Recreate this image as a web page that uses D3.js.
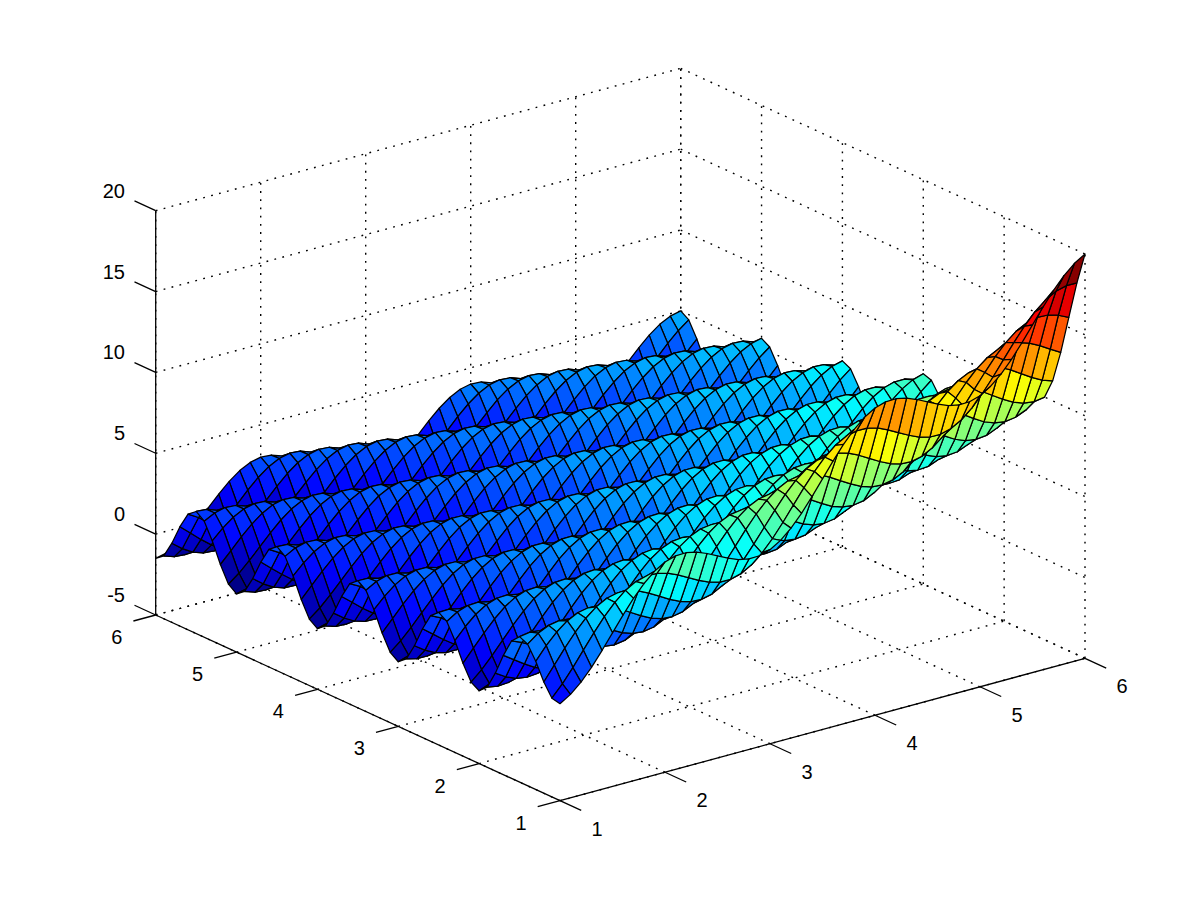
<!DOCTYPE html>
<html>
<head>
<meta charset="utf-8">
<script src="https://cdn.jsdelivr.net/npm/d3@7"></script>
<style>
  html, body { margin: 0; padding: 0; background: #fff; }
  text { font-family: "Liberation Sans", Arial, sans-serif; font-size: 20px; fill: #000; }
</style>
</head>
<body>
<div id="container"></div>
<script>
const xTicks = [1, 2, 3, 4, 5, 6];
const yTicks = [1, 2, 3, 4, 5, 6];
const zTicks = [-5, 0, 5, 10, 15, 20];

const xValues = [1,1.1,1.2,1.3,1.4,1.5,1.6,1.7,1.8,1.9,2,2.1,2.2,2.3,2.4,2.5,2.6,2.7,2.8,2.9,3,3.1,3.2,3.3,3.4,3.5,3.6,3.7,3.8,3.9,4,4.1,4.2,4.3,4.4,4.5,4.6,4.7,4.8,4.9,5,5.1,5.2,5.3,5.4,5.5,5.6,5.7,5.8,5.9,6];
const yValues = [1,1.1,1.2,1.3,1.4,1.5,1.6,1.7,1.8,1.9,2,2.1,2.2,2.3,2.4,2.5,2.6,2.7,2.8,2.9,3,3.1,3.2,3.3,3.4,3.5,3.6,3.7,3.8,3.9,4,4.1,4.2,4.3,4.4,4.5,4.6,4.7,4.8,4.9,5,5.1,5.2,5.3,5.4,5.5,5.6,5.7,5.8,5.9,6];

// heights, one row per y value, one column per x value.
// worked out by hand from a curve fitted to the edges, 3x/y + 2cos(pi(x+2y)), so not direct pixel reads
const zRows = [
[1,1.4,1.98,2.72,3.58,4.5,5.42,6.28,7.02,7.6,8,8.2,8.22,8.08,7.82,7.5,7.18,6.92,6.78,6.8,7,7.4,7.98,8.72,9.58,10.5,11.42,12.28,13.02,13.6,14,14.2,14.22,14.08,13.82,13.5,13.18,12.92,12.78,12.8,13,13.4,13.98,14.72,15.58,16.5,17.42,18.28,19.02,19.6,20],
[1.11,1.82,2.65,3.55,4.44,5.27,5.98,6.54,6.91,7.08,7.07,6.91,6.62,6.27,5.93,5.64,5.47,5.46,5.64,6.01,6.56,7.27,8.1,9,9.89,10.72,11.43,11.99,12.36,12.53,12.52,12.36,12.07,11.72,11.38,11.09,10.92,10.91,11.09,11.46,12.02,12.73,13.56,14.46,15.35,16.18,16.89,17.45,17.82,17.99,17.98],
[1.88,2.75,3.62,4.43,5.12,5.65,6,6.15,6.12,5.93,5.62,5.25,4.88,4.57,4.38,4.35,4.5,4.85,5.38,6.07,6.88,7.75,8.62,9.43,10.12,10.65,11,11.15,11.12,10.93,10.62,10.25,9.88,9.57,9.38,9.35,9.5,9.85,10.38,11.07,11.88,12.75,13.62,14.43,15.12,15.65,16,16.15,16.12,15.93,15.62],
[2.93,3.72,4.39,4.9,5.23,5.36,5.31,5.1,4.77,4.38,4,3.67,3.46,3.41,3.54,3.87,4.38,5.05,5.84,6.69,7.55,8.34,9.01,9.52,9.85,9.98,9.93,9.72,9.39,9,8.62,8.29,8.08,8.03,8.16,8.49,9,9.67,10.46,11.31,12.16,12.95,13.62,14.13,14.46,14.59,14.54,14.33,14,13.61,13.23],
[3.76,4.26,4.57,4.69,4.62,4.39,4.05,3.64,3.24,2.89,2.67,2.6,2.71,3.03,3.52,4.18,4.95,5.79,6.62,7.39,8.05,8.55,8.86,8.98,8.91,8.68,8.34,7.93,7.53,7.18,6.96,6.89,7,7.32,7.81,8.47,9.24,10.08,10.91,11.68,12.33,12.83,13.14,13.26,13.19,12.96,12.62,12.21,11.81,11.46,11.24],
[4,4.1,4.02,3.78,3.42,3,2.58,2.22,1.98,1.9,2,2.3,2.78,3.42,4.18,5,5.82,6.58,7.22,7.7,8,8.1,8.02,7.78,7.42,7,6.58,6.22,5.98,5.9,6,6.3,6.78,7.42,8.18,9,9.82,10.58,11.22,11.7,12,12.1,12.02,11.78,11.42,11,10.58,10.22,9.98,9.9,10],
[3.5,3.24,2.87,2.44,2.01,1.63,1.38,1.29,1.38,1.66,2.13,2.76,3.51,4.31,5.12,5.87,6.5,6.96,7.25,7.34,7.25,6.99,6.62,6.19,5.76,5.38,5.13,5.04,5.13,5.41,5.88,6.51,7.26,8.06,8.87,9.62,10.25,10.71,11,11.09,11,10.74,10.37,9.94,9.51,9.13,8.88,8.79,8.88,9.16,9.63],
[2.38,1.94,1.5,1.11,.85,.75,.82,1.1,1.56,2.17,2.91,3.71,4.5,5.24,5.86,6.31,6.59,6.66,6.56,6.3,5.91,5.47,5.03,4.64,4.38,4.28,4.35,4.63,5.09,5.7,6.44,7.24,8.03,8.77,9.39,9.84,10.12,10.19,10.09,9.83,9.44,9,8.56,8.17,7.91,7.81,7.88,8.16,8.62,9.23,9.97],
[1.05,.65,.38,.27,.33,.6,1.05,1.65,2.38,3.17,3.95,4.68,5.29,5.73,6,6.07,5.95,5.68,5.29,4.83,4.38,3.98,3.71,3.6,3.66,3.93,4.38,4.98,5.71,6.5,7.28,8.01,8.62,9.06,9.33,9.4,9.28,9.01,8.62,8.16,7.71,7.31,7.04,6.93,6.99,7.26,7.71,8.31,9.04,9.83,10.61],
[-.04,-.16,-.11,.15,.59,1.19,1.91,2.68,3.46,4.18,4.78,5.22,5.47,5.53,5.41,5.13,4.73,4.26,3.8,3.4,3.12,3,3.05,3.31,3.75,4.35,5.07,5.84,6.62,7.34,7.94,8.38,8.63,8.69,8.57,8.29,7.89,7.42,6.96,6.56,6.28,6.16,6.21,6.47,6.91,7.51,8.23,9,9.78,10.5,11.1],
[-.5,-.25,.18,.77,1.48,2.25,3.02,3.73,4.32,4.75,5,5.05,4.92,4.63,4.22,3.75,3.28,2.87,2.58,2.45,2.5,2.75,3.18,3.77,4.48,5.25,6.02,6.73,7.32,7.75,8,8.05,7.92,7.63,7.22,6.75,6.28,5.87,5.58,5.45,5.5,5.75,6.18,6.77,7.48,8.25,9.02,9.73,10.32,10.75,11],
[-.19,.39,1.09,1.86,2.62,3.32,3.91,4.33,4.57,4.61,4.48,4.18,3.76,3.29,2.81,2.39,2.09,1.96,2,2.24,2.67,3.25,3.95,4.72,5.48,6.18,6.77,7.19,7.43,7.47,7.34,7.04,6.62,6.15,5.67,5.25,4.95,4.82,4.86,5.1,5.52,6.1,6.8,7.57,8.33,9.03,9.62,10.04,10.28,10.32,10.19],
[.74,1.5,2.26,2.95,3.53,3.95,4.18,4.22,4.07,3.77,3.35,2.86,2.38,1.96,1.65,1.51,1.55,1.78,2.2,2.77,3.47,4.23,4.99,5.68,6.26,6.68,6.91,6.95,6.8,6.5,6.08,5.59,5.11,4.69,4.38,4.24,4.28,4.51,4.93,5.5,6.19,6.95,7.71,8.4,8.98,9.4,9.63,9.67,9.52,9.22,8.8],
[1.92,2.61,3.19,3.6,3.83,3.86,3.71,3.4,2.97,2.48,1.99,1.56,1.25,1.1,1.13,1.36,1.77,2.34,3.03,3.78,4.53,5.22,5.8,6.21,6.44,6.47,6.32,6.01,5.58,5.09,4.6,4.17,3.86,3.71,3.74,3.97,4.38,4.95,5.64,6.39,7.14,7.83,8.41,8.82,9.05,9.08,8.93,8.62,8.19,7.7,7.21],
[2.87,3.28,3.5,3.53,3.37,3.06,2.62,2.13,1.63,1.2,.88,.73,.75,.98,1.38,1.95,2.63,3.38,4.12,4.81,5.37,5.78,6,6.03,5.87,5.56,5.12,4.63,4.13,3.7,3.38,3.23,3.25,3.48,3.88,4.45,5.13,5.88,6.62,7.31,7.87,8.28,8.5,8.53,8.37,8.06,7.62,7.13,6.63,6.2,5.88],
[3.2,3.22,3.06,2.74,2.3,1.8,1.3,.86,.54,.38,.4,.62,1.02,1.58,2.26,3,3.74,4.42,4.98,5.38,5.6,5.62,5.46,5.14,4.7,4.2,3.7,3.26,2.94,2.78,2.8,3.02,3.42,3.98,4.66,5.4,6.14,6.82,7.38,7.78,8,8.02,7.86,7.54,7.1,6.6,6.1,5.66,5.34,5.18,5.2],
[2.77,2.45,2,1.5,1,.55,.23,.06,.08,.29,.69,1.24,1.92,2.65,3.39,4.06,4.62,5.02,5.23,5.25,5.08,4.76,4.31,3.81,3.31,2.86,2.54,2.37,2.39,2.6,3,3.55,4.23,4.96,5.7,6.37,6.93,7.33,7.54,7.56,7.39,7.07,6.62,6.12,5.62,5.17,4.85,4.68,4.7,4.91,5.31],
[1.73,1.22,.71,.26,-.06,-.23,-.22,-.01,.38,.93,1.6,2.33,3.06,3.74,4.29,4.68,4.89,4.9,4.73,4.4,3.95,3.44,2.93,2.48,2.16,1.99,2,2.21,2.6,3.15,3.82,4.55,5.28,5.96,6.51,6.9,7.11,7.12,6.95,6.62,6.17,5.66,5.15,4.7,4.38,4.21,4.22,4.43,4.82,5.37,6.04],
[.45,0,-.33,-.51,-.5,-.29,.09,.64,1.31,2.04,2.76,3.43,3.98,4.36,4.57,4.58,4.41,4.07,3.62,3.11,2.59,2.14,1.81,1.63,1.64,1.85,2.23,2.78,3.45,4.18,4.9,5.57,6.12,6.5,6.71,6.72,6.55,6.21,5.76,5.25,4.74,4.29,3.96,3.78,3.79,4,4.38,4.93,5.6,6.33,7.05],
[-.59,-.76,-.76,-.56,-.17,.37,1.04,1.76,2.48,3.15,3.69,4.07,4.28,4.28,4.1,3.77,3.31,2.79,2.28,1.82,1.48,1.31,1.31,1.51,1.9,2.44,3.11,3.83,4.55,5.22,5.76,6.14,6.35,6.35,6.17,5.84,5.38,4.86,4.35,3.89,3.55,3.38,3.38,3.58,3.97,4.51,5.18,5.9,6.62,7.29,7.83],
[-1,-.8,-.42,.12,.78,1.5,2.22,2.88,3.42,3.8,4,4,3.82,3.48,3.02,2.5,1.98,1.52,1.18,1,1,1.2,1.58,2.12,2.78,3.5,4.22,4.88,5.42,5.8,6,6,5.82,5.48,5.02,4.5,3.98,3.52,3.18,3,3,3.2,3.58,4.12,4.78,5.5,6.22,6.88,7.42,7.8,8],
[-.65,-.12,.54,1.26,1.97,2.63,3.17,3.55,3.74,3.74,3.56,3.21,2.75,2.23,1.7,1.24,.9,.71,.71,.91,1.29,1.82,2.48,3.2,3.91,4.57,5.11,5.49,5.68,5.68,5.5,5.15,4.69,4.17,3.64,3.18,2.84,2.65,2.65,2.85,3.22,3.75,4.41,5.13,5.84,6.5,7.04,7.42,7.61,7.61,7.43],
[.32,1.03,1.75,2.4,2.93,3.31,3.5,3.49,3.31,2.96,2.5,1.97,1.44,.98,.63,.44,.44,.63,1.01,1.54,2.2,2.91,3.63,4.28,4.81,5.19,5.38,5.37,5.19,4.84,4.38,3.85,3.32,2.86,2.51,2.32,2.32,2.51,2.89,3.42,4.07,4.78,5.5,6.15,6.68,7.06,7.25,7.24,7.06,6.71,6.25],
[1.53,2.18,2.71,3.08,3.27,3.26,3.07,2.73,2.26,1.73,1.2,.73,.38,.19,.18,.37,.74,1.27,1.93,2.64,3.35,4,4.53,4.9,5.09,5.08,4.89,4.55,4.08,3.55,3.02,2.55,2.2,2.01,2,2.19,2.56,3.09,3.75,4.46,5.17,5.82,6.35,6.72,6.91,6.9,6.71,6.37,5.9,5.37,4.84],
[2.5,2.87,3.06,3.05,2.86,2.5,2.03,1.5,.97,.5,.14,-.05,-.06,.13,.5,1.03,1.67,2.38,3.09,3.74,4.27,4.64,4.83,4.82,4.63,4.27,3.8,3.27,2.74,2.27,1.91,1.72,1.71,1.9,2.27,2.8,3.44,4.15,4.86,5.51,6.03,6.4,6.59,6.58,6.39,6.03,5.56,5.03,4.5,4.03,3.67],
[2.86,2.84,2.65,2.29,1.82,1.29,.75,.28,-.08,-.27,-.29,-.1,.27,.79,1.44,2.14,2.85,3.49,4.02,4.39,4.57,4.55,4.36,4,3.53,3,2.46,1.99,1.63,1.44,1.42,1.61,1.98,2.5,3.15,3.85,4.56,5.2,5.73,6.1,6.29,6.27,6.08,5.72,5.25,4.72,4.18,3.71,3.35,3.16,3.14],
[2.45,2.1,1.62,1.08,.55,.07,-.29,-.48,-.5,-.32,.05,.57,1.21,1.92,2.62,3.26,3.79,4.15,4.33,4.32,4.12,3.77,3.29,2.75,2.22,1.74,1.38,1.19,1.17,1.35,1.72,2.24,2.88,3.59,4.29,4.93,5.46,5.82,6,5.99,5.78,5.43,4.95,4.41,3.88,3.4,3.04,2.85,2.83,3.01,3.38],
[1.43,.89,.35,-.13,-.48,-.68,-.7,-.52,-.16,.36,1,1.7,2.4,3.04,3.57,3.93,4.11,4.09,3.89,3.53,3.05,2.51,1.97,1.49,1.14,.94,.92,1.1,1.46,1.98,2.62,3.32,4.02,4.66,5.19,5.55,5.73,5.71,5.51,5.15,4.67,4.13,3.59,3.11,2.76,2.56,2.54,2.72,3.08,3.6,4.24],
[.17,-.31,-.67,-.87,-.89,-.72,-.36,.16,.8,1.5,2.2,2.84,3.36,3.72,3.89,3.87,3.67,3.31,2.83,2.29,1.75,1.27,.91,.71,.69,.86,1.22,1.74,2.38,3.08,3.78,4.42,4.94,5.3,5.47,5.45,5.25,4.89,4.41,3.87,3.33,2.85,2.49,2.29,2.27,2.44,2.8,3.32,3.96,4.66,5.36],
[-.85,-1.05,-1.08,-.9,-.54,-.03,.61,1.31,2,2.64,3.16,3.52,3.69,3.67,3.47,3.1,2.62,2.08,1.53,1.05,.69,.49,.46,.64,1,1.51,2.15,2.85,3.54,4.18,4.7,5.06,5.23,5.21,5.01,4.64,4.16,3.62,3.07,2.59,2.23,2.03,2,2.18,2.54,3.05,3.69,4.39,5.08,5.72,6.24],
[-1.25,-1.07,-.72,-.2,.43,1.13,1.82,2.46,2.97,3.33,3.5,3.48,3.27,2.91,2.42,1.88,1.33,.85,.48,.28,.25,.43,.78,1.3,1.93,2.63,3.32,3.96,4.47,4.83,5,4.98,4.77,4.41,3.92,3.38,2.83,2.35,1.98,1.78,1.75,1.93,2.28,2.8,3.43,4.13,4.82,5.46,5.97,6.33,6.5],
[-.89,-.38,.26,.95,1.64,2.28,2.79,3.14,3.32,3.29,3.08,2.72,2.23,1.68,1.14,.65,.28,.08,.05,.22,.57,1.08,1.72,2.41,3.1,3.74,4.25,4.6,4.78,4.75,4.54,4.18,3.69,3.14,2.6,2.11,1.74,1.54,1.51,1.68,2.04,2.55,3.19,3.88,4.57,5.21,5.72,6.07,6.25,6.22,6.01],
[.09,.79,1.48,2.11,2.62,2.97,3.14,3.11,2.91,2.54,2.05,1.5,.95,.46,.09,-.11,-.14,.03,.38,.89,1.52,2.22,2.91,3.54,4.05,4.4,4.57,4.54,4.34,3.97,3.48,2.93,2.38,1.89,1.52,1.32,1.29,1.46,1.81,2.32,2.95,3.65,4.34,4.97,5.48,5.83,6,5.97,5.77,5.4,4.91],
[1.32,1.95,2.46,2.81,2.98,2.95,2.74,2.37,1.88,1.33,.78,.29,-.09,-.3,-.33,-.16,.19,.7,1.33,2.02,2.72,3.35,3.86,4.21,4.38,4.35,4.14,3.77,3.28,2.73,2.18,1.69,1.31,1.1,1.07,1.24,1.59,2.1,2.73,3.42,4.11,4.74,5.25,5.6,5.77,5.74,5.53,5.16,4.67,4.12,3.57],
[2.3,2.65,2.82,2.79,2.57,2.2,1.71,1.16,.61,.12,-.26,-.47,-.5,-.33,.02,.52,1.15,1.84,2.53,3.16,3.66,4.01,4.18,4.15,3.93,3.56,3.07,2.52,1.97,1.48,1.1,.89,.86,1.03,1.38,1.88,2.51,3.2,3.89,4.52,5.03,5.38,5.55,5.52,5.3,4.93,4.44,3.89,3.34,2.85,2.47],
[2.67,2.63,2.42,2.05,1.55,1,.45,-.05,-.42,-.63,-.67,-.5,-.15,.35,.98,1.67,2.35,2.98,3.49,3.83,4,3.96,3.75,3.38,2.88,2.33,1.78,1.28,.91,.7,.66,.83,1.18,1.68,2.31,3,3.68,4.31,4.82,5.16,5.33,5.29,5.08,4.71,4.21,3.66,3.11,2.61,2.24,2.03,2],
[2.27,1.9,1.4,.85,.29,-.2,-.58,-.79,-.83,-.66,-.32,.19,.81,1.5,2.19,2.81,3.32,3.66,3.83,3.79,3.57,3.2,2.7,2.15,1.59,1.1,.72,.51,.47,.64,.98,1.49,2.11,2.8,3.49,4.11,4.62,4.96,5.13,5.09,4.88,4.51,4.01,3.46,2.9,2.41,2.03,1.82,1.78,1.95,2.29],
[1.26,.7,.15,-.35,-.73,-.94,-.98,-.81,-.47,.03,.66,1.34,2.02,2.65,3.15,3.5,3.66,3.62,3.41,3.03,2.54,1.98,1.43,.93,.55,.34,.3,.47,.81,1.31,1.94,2.62,3.3,3.93,4.43,4.78,4.94,4.9,4.69,4.31,3.81,3.25,2.7,2.2,1.82,1.61,1.57,1.74,2.08,2.58,3.21],
[.01,-.49,-.87,-1.09,-1.12,-.96,-.62,-.12,.51,1.19,1.87,2.49,3,3.34,3.5,3.46,3.25,2.87,2.37,1.81,1.26,.76,.38,.16,.13,.29,.63,1.13,1.76,2.44,3.12,3.74,4.25,4.59,4.75,4.71,4.5,4.12,3.62,3.06,2.51,2.01,1.63,1.41,1.38,1.54,1.88,2.38,3.01,3.69,4.37],
[-1.01,-1.23,-1.27,-1.1,-.76,-.26,.36,1.04,1.72,2.34,2.84,3.19,3.35,3.31,3.09,2.71,2.21,1.65,1.09,.6,.21,-.01,-.05,.12,.46,.96,1.58,2.26,2.94,3.56,4.06,4.41,4.57,4.53,4.31,3.93,3.43,2.87,2.31,1.82,1.44,1.22,1.18,1.35,1.69,2.19,2.81,3.49,4.17,4.79,5.29],
[-1.4,-1.24,-.9,-.4,.22,.9,1.58,2.2,2.7,3.04,3.2,3.16,2.94,2.56,2.06,1.5,.94,.44,.06,-.16,-.2,-.04,.3,.8,1.42,2.1,2.78,3.4,3.9,4.24,4.4,4.36,4.14,3.76,3.26,2.7,2.14,1.64,1.26,1.04,1,1.16,1.5,2,2.62,3.3,3.98,4.6,5.1,5.44,5.6],
[-1.03,-.53,.09,.76,1.44,2.06,2.56,2.9,3.06,3.02,2.8,2.42,1.91,1.35,.79,.29,-.09,-.31,-.35,-.19,.15,.65,1.27,1.94,2.62,3.24,3.74,4.08,4.24,4.2,3.98,3.6,3.09,2.53,1.97,1.47,1.09,.87,.83,.99,1.32,1.82,2.44,3.11,3.79,4.41,4.91,5.25,5.41,5.37,5.15],
[-.04,.63,1.31,1.93,2.43,2.77,2.92,2.88,2.66,2.28,1.77,1.21,.65,.15,-.24,-.46,-.5,-.34,0,.49,1.11,1.78,2.46,3.08,3.58,3.92,4.07,4.03,3.81,3.43,2.92,2.36,1.8,1.3,.91,.69,.65,.81,1.15,1.64,2.27,2.94,3.62,4.24,4.74,5.08,5.23,5.19,4.97,4.59,4.08],
[1.19,1.8,2.3,2.64,2.79,2.75,2.53,2.14,1.64,1.08,.51,.01,-.37,-.6,-.64,-.48,-.15,.35,.96,1.64,2.32,2.93,3.43,3.77,3.92,3.88,3.66,3.27,2.77,2.21,1.64,1.14,.76,.53,.49,.65,.98,1.48,2.09,2.77,3.45,4.06,4.56,4.9,5.05,5.01,4.79,4.4,3.9,3.34,2.77],
[2.18,2.51,2.67,2.62,2.4,2.01,1.51,.94,.38,-.12,-.51,-.73,-.78,-.62,-.29,.21,.82,1.5,2.18,2.79,3.29,3.62,3.78,3.73,3.51,3.12,2.62,2.05,1.49,.99,.6,.38,.33,.49,.82,1.32,1.93,2.61,3.29,3.9,4.4,4.73,4.89,4.84,4.62,4.23,3.73,3.16,2.6,2.1,1.71],
[2.55,2.5,2.27,1.89,1.38,.82,.25,-.25,-.64,-.86,-.91,-.75,-.42,.07,.69,1.36,2.04,2.65,3.15,3.48,3.64,3.59,3.36,2.98,2.47,1.91,1.34,.84,.45,.23,.18,.34,.67,1.16,1.78,2.45,3.13,3.74,4.24,4.57,4.73,4.68,4.45,4.07,3.56,3,2.43,1.93,1.54,1.32,1.27],
[2.16,1.77,1.26,.7,.13,-.38,-.76,-.99,-1.04,-.88,-.55,-.05,.56,1.23,1.91,2.52,3.01,3.35,3.5,3.45,3.23,2.84,2.33,1.77,1.2,.69,.31,.08,.03,.19,.52,1.02,1.63,2.3,2.98,3.59,4.08,4.42,4.57,4.52,4.3,3.91,3.4,2.84,2.27,1.76,1.38,1.15,1.1,1.26,1.59],
[1.15,.58,.01,-.5,-.88,-1.11,-1.16,-1.01,-.67,-.18,.43,1.11,1.78,2.39,2.88,3.22,3.37,3.32,3.09,2.71,2.2,1.63,1.06,.55,.17,-.06,-.11,.04,.38,.87,1.48,2.16,2.83,3.44,3.93,4.27,4.42,4.37,4.14,3.76,3.26,2.69,2.12,1.61,1.23,1,.95,1.1,1.44,1.93,2.54],
[-.1,-.61,-1,-1.23,-1.28,-1.12,-.79,-.3,.31,.98,1.65,2.27,2.76,3.09,3.24,3.19,2.96,2.58,2.07,1.5,.93,.42,.03,-.2,-.25,-.09,.24,.73,1.34,2.01,2.68,3.3,3.79,4.12,4.27,4.22,3.99,3.61,3.1,2.53,1.97,1.46,1.07,.84,.79,.95,1.28,1.77,2.38,3.05,3.72],
[-1.11,-1.34,-1.39,-1.24,-.91,-.42,.19,.86,1.54,2.15,2.64,2.97,3.12,3.07,2.84,2.45,1.94,1.37,.8,.29,-.09,-.32,-.37,-.22,.11,.6,1.21,1.88,2.56,3.17,3.66,3.99,4.14,4.09,3.86,3.47,2.96,2.39,1.82,1.31,.92,.69,.64,.79,1.12,1.61,2.22,2.89,3.57,4.18,4.67],
[-1.5,-1.35,-1.02,-.53,.08,.75,1.42,2.03,2.52,2.85,3,2.95,2.72,2.33,1.82,1.25,.68,.17,-.22,-.45,-.5,-.35,-.02,.47,1.08,1.75,2.42,3.03,3.52,3.85,4,3.95,3.72,3.33,2.82,2.25,1.68,1.17,.78,.55,.5,.65,.98,1.47,2.08,2.75,3.42,4.03,4.52,4.85,5]
];

const w = 1200;
const h = 902;
const origin = [560, 800.7];

// each data axis moves the point along its own screen direction
const xToPx = d3.scaleLinear().domain([1, 6]).range([0, 525]);
const xToPy = d3.scaleLinear().domain([1, 6]).range([0, -142.4]);
const yToPx = d3.scaleLinear().domain([1, 6]).range([0, -404.3]);
const yToPy = d3.scaleLinear().domain([1, 6]).range([0, -185.7]);
const zToPy = d3.scaleLinear().domain([-5, 20]).range([0, -404.3]);

const project = (x, y, z) => [
  origin[0] + xToPx(x) + yToPx(y),
  origin[1] + xToPy(x) + yToPy(y) + zToPy(z)
];

const jetAt = (t) => {
  const ch = (c) => Math.round(255 * Math.max(0, Math.min(1, 1.5 - Math.abs(4 * t - c))));
  return `rgb(${ch(3)},${ch(2)},${ch(1)})`;
};
const color = d3.scaleQuantize()
  .domain([-1.5, 20])
  .range(d3.range(64).map((i) => jetAt((i + 0.5) / 64)));

const svg = d3.select("#container")
  .append("svg")
  .attr("width", w)
  .attr("height", h)
  .style("display", "block")
  .style("background-color", "#fff");

const line = d3.line();

// dotted grid on the floor and the two back walls
const gridLines = [];
xTicks.forEach((x) => {
  gridLines.push([project(x, 1, -5), project(x, 6, -5)]);
  gridLines.push([project(x, 6, -5), project(x, 6, 20)]);
});
yTicks.forEach((y) => {
  gridLines.push([project(1, y, -5), project(6, y, -5)]);
  gridLines.push([project(6, y, -5), project(6, y, 20)]);
});
zTicks.forEach((z) => {
  gridLines.push([project(1, 6, z), project(6, 6, z)]);
  gridLines.push([project(6, 6, z), project(6, 1, z)]);
});

svg.append("g")
  .selectAll("path")
  .data(gridLines)
  .enter()
  .append("path")
  .attr("d", line)
  .attr("fill", "none")
  .attr("stroke", "#000")
  .attr("stroke-width", 1.4)
  .attr("stroke-dasharray", "1.8 6.4");

// axis lines and ticks
const axisLines = [
  [project(1, 1, -5), project(6, 1, -5)],
  [project(1, 1, -5), project(1, 6, -5)],
  [project(1, 6, -5), project(1, 6, 20)]
];
xTicks.forEach((x) => {
  const p = project(x, 1, -5);
  axisLines.push([p, [p[0] + 21.2, p[1] + 9.75]]);
});
yTicks.forEach((y) => {
  const p = project(1, y, -5);
  axisLines.push([p, [p[0] - 22.3, p[1] + 6]]);
});
zTicks.forEach((z) => {
  const p = project(1, 6, z);
  axisLines.push([p, [p[0] - 21.2, p[1] - 9.75]]);
});

svg.append("g")
  .selectAll("path")
  .data(axisLines)
  .enter()
  .append("path")
  .attr("d", line)
  .attr("fill", "none")
  .attr("stroke", "#000")
  .attr("stroke-width", 1.3);

// far cells first so the near ridges paint over them
const cells = [];
for (let j = yValues.length - 2; j >= 0; j--) {
  for (let i = xValues.length - 2; i >= 0; i--) {
    cells.push({
      z: zRows[j][i + 1],
      pts: [
        project(xValues[i], yValues[j], zRows[j][i]),
        project(xValues[i + 1], yValues[j], zRows[j][i + 1]),
        project(xValues[i + 1], yValues[j + 1], zRows[j + 1][i + 1]),
        project(xValues[i], yValues[j + 1], zRows[j + 1][i])
      ]
    });
  }
}

svg.append("g")
  .selectAll("path")
  .data(cells)
  .enter()
  .append("path")
  .attr("d", (d) => line(d.pts) + "Z")
  .attr("fill", (d) => color(d.z))
  .attr("stroke", "#000")
  .attr("stroke-width", 1.25)
  .attr("stroke-linejoin", "round");

const labels = svg.append("g").attr("dominant-baseline", "central");

labels.selectAll(".xlabel")
  .data(xTicks)
  .enter()
  .append("text")
  .attr("class", "xlabel")
  .attr("text-anchor", "middle")
  .attr("x", (d) => project(d, 1, -5)[0] + 37)
  .attr("y", (d) => project(d, 1, -5)[1] + 28)
  .text((d) => d);

labels.selectAll(".ylabel")
  .data(yTicks)
  .enter()
  .append("text")
  .attr("class", "ylabel")
  .attr("text-anchor", "middle")
  .attr("x", (d) => project(1, d, -5)[0] - 39)
  .attr("y", (d) => project(1, d, -5)[1] + 22)
  .text((d) => d);

labels.selectAll(".zlabel")
  .data(zTicks)
  .enter()
  .append("text")
  .attr("class", "zlabel")
  .attr("text-anchor", "end")
  .attr("x", 125)
  .attr("y", (d) => project(1, 6, d)[1] - 20)
  .text((d) => d);
</script>
</body>
</html>
